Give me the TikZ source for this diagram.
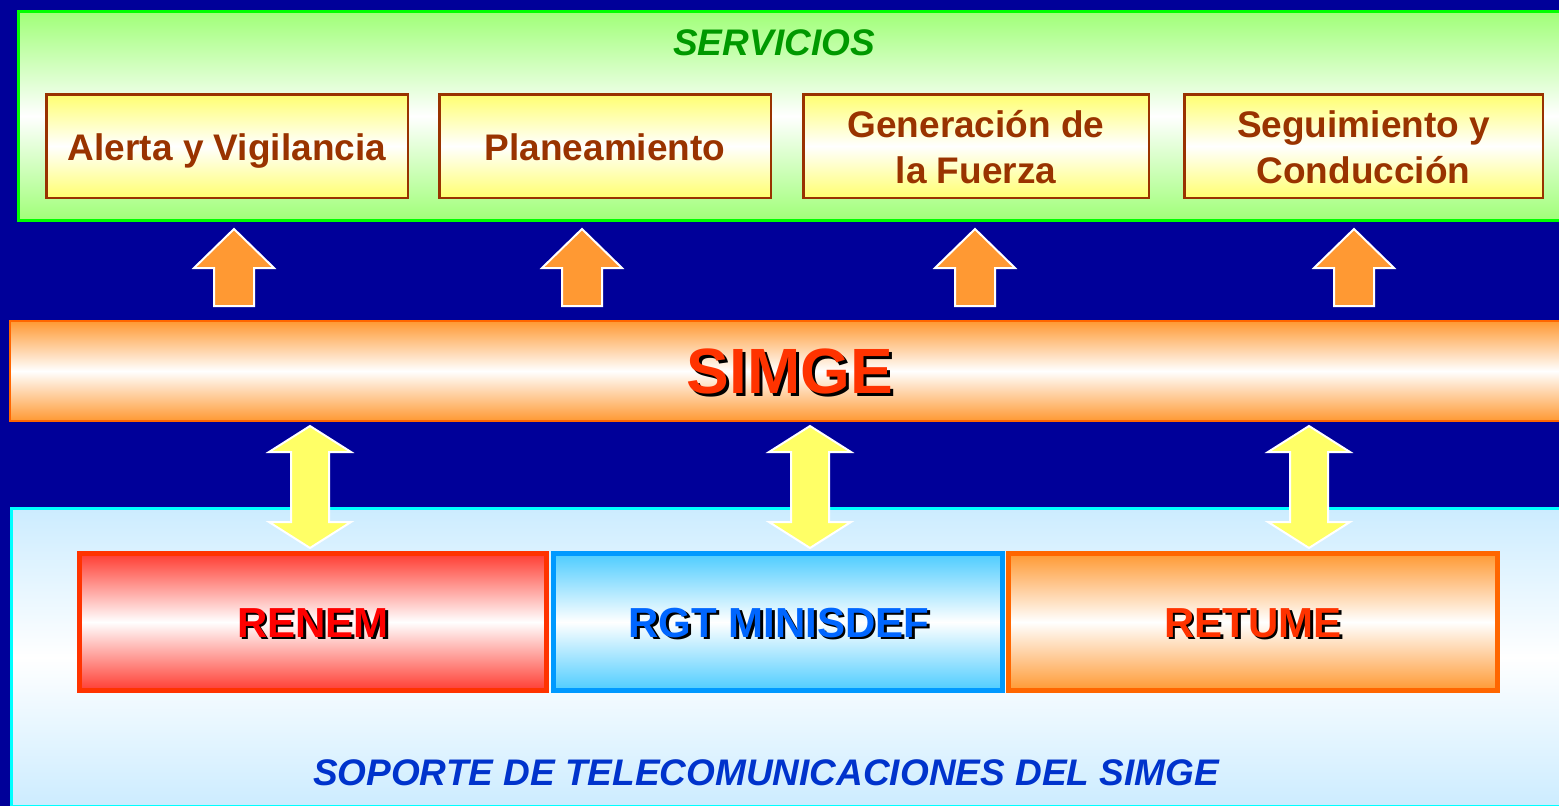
\documentclass[tikz,border=0pt]{standalone}
\usepackage{fontspec}
\setmainfont{Liberation Sans}
\usepackage{tikz}

\definecolor{fondo}{RGB}{0,0,153}
\definecolor{verde}{RGB}{0,255,0}
\definecolor{verdeclaro}{RGB}{160,255,120}
\definecolor{verdetexto}{RGB}{0,153,0}
\definecolor{marron}{RGB}{153,51,0}
\definecolor{amarillo}{RGB}{255,255,112}
\definecolor{naranja}{RGB}{255,153,51}
\definecolor{naranjaborde}{RGB}{255,102,0}
\definecolor{rojotexto}{RGB}{255,51,0}
\definecolor{rojoborde}{RGB}{255,51,0}
\definecolor{rojofill}{RGB}{255,60,50}
\definecolor{rojopuro}{RGB}{255,0,0}
\definecolor{celeste}{RGB}{204,236,255}
\definecolor{cian}{RGB}{0,255,255}
\definecolor{azulborde}{RGB}{0,153,255}
\definecolor{azulfill}{RGB}{77,204,255}
\definecolor{azultexto}{RGB}{0,102,255}
\definecolor{azulsoporte}{RGB}{0,51,204}
\definecolor{amarilloflecha}{RGB}{255,255,102}

\begin{document}
\begin{tikzpicture}[x=1pt, y=-1pt,
	caja/.style={draw=marron, line width=2.5pt, top color=amarillo, bottom color=amarillo, middle color=white,
		minimum height=103.5pt, inner sep=0pt, outer sep=0pt},
	cajatexto/.style={anchor=base, text=marron, align=center, font=\fontsize{37}{46}\selectfont\bfseries},
	redcaja/.style={line width=5pt, minimum height=137pt, inner sep=0pt, outer sep=0pt},
	redtexto/.style={anchor=base, font=\fontsize{42}{48}\selectfont\bfseries},
	flechaup/.style={fill=naranja, draw=white, line width=2pt},
	flechadoble/.style={fill=amarilloflecha, draw=white, line width=2pt}]
	\useasboundingbox (0,0) rectangle (1559,806);
	\clip (0,0) rectangle (1559,806);
	\fill[fondo] (0,0) rectangle (1559,806);

	% servicios
	\node[draw=verde, line width=3pt, top color=verdeclaro, bottom color=verdeclaro, middle color=white,
		minimum width=1555pt, minimum height=209pt] (servicios) at (796,116) {};
	\node[anchor=base, text=verdetexto, font=\fontsize{37}{44}\selectfont\bfseries\itshape] (servicios-titulo) at (774,55) {SERVICIOS};

	\node[caja, minimum width=361.5pt] (alerta) at (227,146) {};
	\node[caja, minimum width=331.5pt] (planeamiento) at (605,146) {};
	\node[caja, minimum width=345.5pt] (generacion) at (976,146) {};
	\node[caja, minimum width=358.5pt] (seguimiento) at (1363.5,146) {};
	\node[cajatexto] (alerta-texto) at (227,160) {Alerta y Vigilancia};
	\node[cajatexto] (planeamiento-texto) at (605,160) {Planeamiento};
	\node[cajatexto] (generacion-texto) at (976,183) {Generación de\\la Fuerza};
	\node[cajatexto] (seguimiento-texto) at (1363.5,183) {Seguimiento y\\Conducción};

	% flechas hacia servicios
	\foreach \x in {234,582,975,1354} {
		\filldraw[flechaup] (\x,229) -- (\x+40,268) -- (\x+20,268) -- (\x+20,306) -- (\x-20,306) -- (\x-20,268) -- (\x-40,268) -- cycle;
	}

	% SIMGE
	\node[draw=naranjaborde, line width=2.5pt, top color=naranja, bottom color=naranja, middle color=white,
		minimum width=1565pt, minimum height=100pt] (simge) at (792.5,371) {};
	\node[anchor=base, text=black, font=\fontsize{64}{70}\selectfont\bfseries] (simge-sombra) at (793,396) {SIMGE};
	\node[anchor=base, text=rojotexto, font=\fontsize{64}{70}\selectfont\bfseries] (simge-texto) at (790,393) {SIMGE};

	% soporte
	\node[draw=cian, line width=3pt, top color=celeste, bottom color=celeste, middle color=white,
		minimum width=1562pt, minimum height=298pt] (soporte) at (792.5,657.5) {};
	\node[anchor=base, text=azulsoporte, font=\fontsize{37}{44}\selectfont\bfseries\itshape] (soporte-titulo) at (766,785) {SOPORTE DE TELECOMUNICACIONES DEL SIMGE};

	% flechas dobles
	\foreach \x in {310,810,1309} {
		\filldraw[flechadoble] (\x,426) -- (\x+41,452) -- (\x+19,452) -- (\x+19,522) -- (\x+41,522) -- (\x,548)
			-- (\x-41,522) -- (\x-19,522) -- (\x-19,452) -- (\x-41,452) -- cycle;
	}

	% redes
	\node[redcaja, draw=rojoborde, top color=rojofill, bottom color=rojofill, middle color=white, minimum width=467pt] (renem) at (313,622) {};
	\node[redcaja, draw=azulborde, top color=azulfill, bottom color=azulfill, middle color=white, minimum width=449pt] (rgt) at (778,622) {};
	\node[redcaja, draw=naranjaborde, top color=naranja, bottom color=naranja, middle color=white, minimum width=489pt] (retume) at (1253,622) {};

	\node[redtexto, text=black] (renem-sombra) at (315.5,639.5) {RENEM};
	\node[redtexto, text=rojopuro] (renem-texto) at (313,637) {RENEM};
	\node[redtexto, text=black] (rgt-sombra) at (781.5,639.5) {RGT MINISDEF};
	\node[redtexto, text=azultexto] (rgt-texto) at (779,637) {RGT MINISDEF};
	\node[redtexto, text=black] (retume-sombra) at (1255.5,639.5) {RETUME};
	\node[redtexto, text=rojotexto] (retume-texto) at (1253,637) {RETUME};
\end{tikzpicture}
\end{document}
